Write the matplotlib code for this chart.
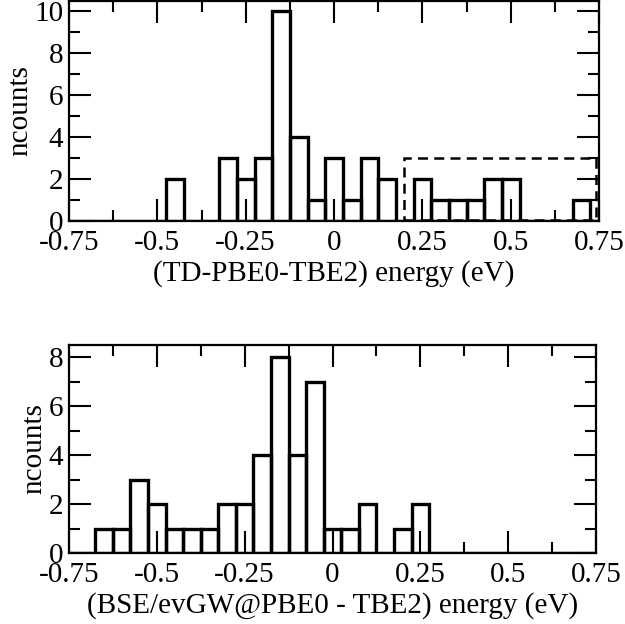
import numpy as np
import matplotlib
matplotlib.use("Agg")
import matplotlib.pyplot as plt
from matplotlib.patches import Rectangle
from matplotlib.ticker import MultipleLocator

plt.rcParams['font.family'] = ['Liberation Serif', 'DejaVu Serif']
plt.rcParams['axes.unicode_minus'] = False

# bin centres (eV), bin width 0.05
centres = [-0.75, -0.70, -0.65, -0.60, -0.55, -0.50, -0.45, -0.40, -0.35, -0.30,
           -0.25, -0.20, -0.15, -0.10, -0.05, 0.00, 0.05, 0.10, 0.15, 0.20,
           0.25, 0.30, 0.35, 0.40, 0.45, 0.50, 0.55, 0.60, 0.65, 0.70, 0.75]
bin_width = 0.05

# TD-PBE0 - TBE2
counts_td = [0, 0, 0, 0, 0, 0, 2, 0, 0, 3,
             2, 3, 10, 4, 1, 3, 1, 3, 2, 0,
             2, 1, 1, 1, 2, 2, 0, 0, 0, 1, 0]

# BSE/evGW@PBE0 - TBE2
counts_bse = [0, 0, 1, 1, 3, 2, 1, 1, 1, 2,
              2, 4, 8, 4, 7, 1, 1, 2, 0, 1,
              2, 0, 0, 0, 0, 0, 0, 0, 0, 0, 0]

xticks = [-0.75, -0.5, -0.25, 0, 0.25, 0.5, 0.75]
xticklabels = ['-0.75', '-0.5', '-0.25', '0', '0.25', '0.5', '0.75']

# dashed box on the tail of the first histogram
box_x = [0.197, 0.742]
box_y = [0.05, 3.0]

FS = 21


def style(ax, ymax, xlabel):
    ax.set_xlim(-0.75, 0.75)
    ax.set_ylim(0, ymax)
    ax.set_xticks(xticks)
    ax.set_xticklabels(xticklabels)
    ax.xaxis.set_minor_locator(MultipleLocator(0.125))
    ax.yaxis.set_major_locator(MultipleLocator(2))
    ax.yaxis.set_minor_locator(MultipleLocator(1))
    ax.tick_params(which='both', direction='in', top=True, right=True,
                   width=1.5, labelsize=FS, pad=4)
    ax.tick_params(axis='x', which='both', pad=6.5)
    ax.tick_params(which='major', length=15.5)
    ax.tick_params(which='minor', length=7.8)
    for s in ax.spines.values():
        s.set_linewidth(1.6)
    ax.set_xlabel(xlabel, fontsize=FS, labelpad=3)
    ax.set_ylabel('ncounts', fontsize=FS, labelpad=1)


fig = plt.figure(figsize=(6.25, 6.24), dpi=100)

ax1 = fig.add_axes([0.1104, 0.6458, 0.848, 0.3526])
ax1.bar(centres, counts_td, width=bin_width, fill=False, edgecolor='black',
        linewidth=2.4, clip_on=True)
ax1.add_patch(Rectangle((box_x[0], box_y[0]), box_x[1] - box_x[0], box_y[1] - box_y[0],
                        fill=False, edgecolor='black', linestyle=(0, (4, 2.5)),
                        linewidth=1.8))
style(ax1, 10.5, '(TD-PBE0-TBE2) energy (eV)')

ax2 = fig.add_axes([0.1104, 0.1138, 0.8432, 0.3333])
ax2.bar(centres, counts_bse, width=bin_width, fill=False, edgecolor='black',
        linewidth=2.4, clip_on=True)
style(ax2, 8.5, '(BSE/evGW@PBE0 - TBE2) energy (eV)')

fig.savefig('out.png', dpi=100)
